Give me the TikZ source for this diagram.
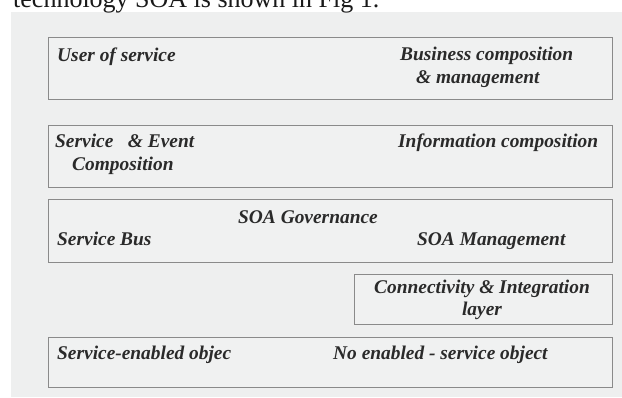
\documentclass[tikz,border=0pt]{standalone}
\usepackage{fontspec}
\setmainfont{Liberation Serif}
\definecolor{panel}{HTML}{EEEFEF}
\definecolor{boxfill}{HTML}{F0F1F1}
\definecolor{boxline}{HTML}{8A8A8A}
\definecolor{txt}{HTML}{2A2A2A}
\tikzset{
  layerbox/.style={draw=boxline, fill=boxfill, line width=1.4pt, rectangle,
    inner sep=0pt, anchor=north west},
  lbl/.style={anchor=base west, inner sep=0pt, text=txt,
    font=\bfseries\itshape\fontsize{19.4}{23}\selectfont},
  lblc/.style={lbl, anchor=base}
}
\begin{document}
\begin{tikzpicture}[x=1pt,y=-1pt]
\useasboundingbox (0,0) rectangle (622,397);
\clip (0,0) rectangle (622,397);
\fill[white] (0,0) rectangle (622,397);
\fill[panel] (11,12) rectangle (622,397);
\node[anchor=base west, inner sep=0pt, text=black!90, font=\fontsize{26}{30}\selectfont] (caption) at (13,7.5) {technology SOA is shown in Fig 1.};
% layers
\node[layerbox, minimum width=564pt, minimum height=62pt] (b1) at (48,37) {};
\node[layerbox, minimum width=564pt, minimum height=62pt] (b2) at (48,125) {};
\node[layerbox, minimum width=564pt, minimum height=63pt] (b3) at (48,199) {};
\node[layerbox, minimum width=258pt, minimum height=50pt] (b4) at (354,274) {};
\node[layerbox, minimum width=564pt, minimum height=50pt] (b5) at (48,337) {};
% texts
\node[lbl] (t1a) at (57,61) {User of service};
\node[lbl] (t1b) at (400,60) {Business composition};
\node[lbl] (t1c) at (416,83) {\& management};
\node[lbl] (t2a) at (55,147) {Service\ \ \ \& Event};
\node[lbl] (t2b) at (72,170) {Composition};
\node[lbl] (t2c) at (398,147) {Information composition};
\node[lbl] (t3a) at (238,223) {SOA Governance};
\node[lbl] (t3b) at (57,245) {Service Bus};
\node[lbl] (t3c) at (417,245) {SOA Management};
\node[lblc] (t4a) at (482,293) {Connectivity \& Integration};
\node[lblc] (t4b) at (482,315) {layer};
\node[lbl] (t5a) at (57,359) {Service-enabled objec};
\node[lbl] (t5b) at (333,359) {No enabled - service object};
\end{tikzpicture}
\end{document}
